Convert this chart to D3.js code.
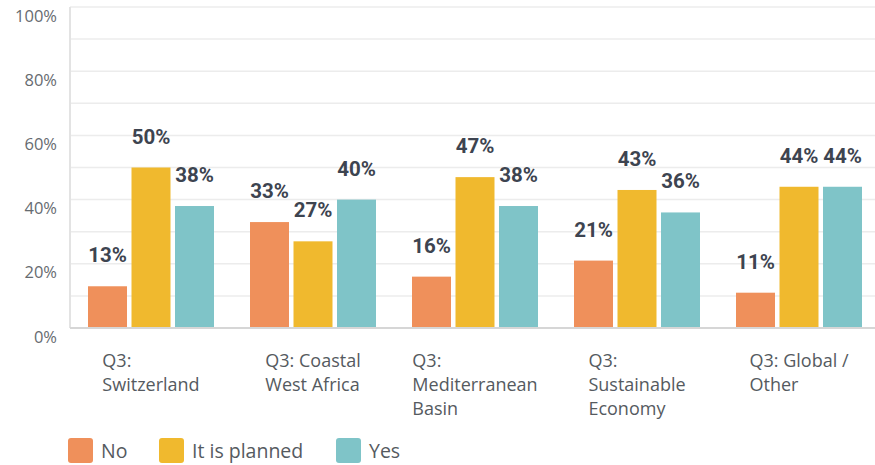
<!DOCTYPE html>
<html>
<head>
<meta charset="utf-8">
<script src="https://cdn.jsdelivr.net/npm/d3@7"></script>
<style>
  html, body { margin: 0; padding: 0; background: #fff; }
  svg { display: block; }
</style>
</head>
<body>
<svg id="chart" width="875" height="465"></svg>
<script>
// Survey question Q3 answers per region
const categories = [
  ["Q3:", "Switzerland"],
  ["Q3: Coastal", "West Africa"],
  ["Q3:", "Mediterranean", "Basin"],
  ["Q3:", "Sustainable", "Economy"],
  ["Q3: Global /", "Other"]
];
const seriesNames = ["No", "It is planned", "Yes"];
const noValues = [13, 33, 16, 21, 11];
const plannedValues = [50, 27, 47, 43, 44];
const yesValues = [38, 40, 38, 36, 44];
const yTicks = [0, 20, 40, 60, 80, 100];
const gridValues = [10, 20, 30, 40, 50, 60, 70, 80, 90, 100];
const colors = ["#EF905B", "#F0B92E", "#7FC4C8"];

const series = [noValues, plannedValues, yesValues];
const svg = d3.select("#chart");

const x0 = d3.scaleBand().domain(d3.range(categories.length)).range([70, 880]);
const barW = 39, barGap = 4.5;
const x1 = d3.scaleBand().domain(d3.range(seriesNames.length))
  .range([0, 3 * barW + 2 * barGap]).paddingInner(barGap / (barW + barGap)).paddingOuter(0);
const groupOffset = (x0.bandwidth() - (3 * barW + 2 * barGap)) / 2;
const y = d3.scaleLinear().domain([0, 100]).range([328, 7]);

// Horizontal gridlines
svg.append("g").selectAll("line").data(gridValues).join("line")
  .attr("x1", 70).attr("x2", 875)
  .attr("y1", d => y(d)).attr("y2", d => y(d))
  .attr("stroke", "#ececec").attr("stroke-width", 1.5);

// Left axis line
svg.append("line").attr("x1", 70).attr("x2", 70).attr("y1", y(100)).attr("y2", y(0))
  .attr("stroke", "#e3e3e3").attr("stroke-width", 2);

// Y tick labels (sitting just below their gridline)
svg.append("g").selectAll("text").data(yTicks).join("text")
  .attr("x", 57).attr("y", d => y(d) + 14.5)
  .attr("text-anchor", "end")
  .attr("font-family", "'Open Sans', 'Noto Sans', sans-serif")
  .attr("font-size", 16.5).attr("fill", "#666b70")
  .text(d => d + "%");

// Bars
const groups = svg.append("g").selectAll("g").data(categories).join("g")
  .attr("transform", (d, i) => `translate(${x0(i) + groupOffset},0)`);

groups.each(function(cat, i) {
  const g = d3.select(this);
  series.forEach((vals, s) => {
    g.append("rect")
      .attr("x", x1(s)).attr("width", x1.bandwidth())
      .attr("y", y(vals[i])).attr("height", y(0) - y(vals[i]))
      .attr("fill", colors[s]);
  });
  series.forEach((vals, s) => {
    g.append("text")
      .attr("x", x1(s) + x1.bandwidth() / 2)
      .attr("y", y(vals[i]) - 24)
      .attr("text-anchor", "middle")
      .attr("font-family", "Roboto, 'Noto Sans', sans-serif")
      .attr("font-weight", "bold")
      .attr("font-size", 20.5).attr("fill", "#3d4450")
      .text(vals[i] + "%");
  });
});

// Baseline
svg.append("line").attr("x1", 70).attr("x2", 875).attr("y1", y(0)).attr("y2", y(0))
  .attr("stroke", "#d6d6d6").attr("stroke-width", 2);

// Category labels: left-aligned lines, block centred on the band
svg.append("g").selectAll("g").data(categories).join("g").each(function(lines, i) {
  const g = d3.select(this);
  const t = g.append("text")
    .attr("font-family", "'Open Sans', 'Noto Sans', sans-serif")
    .attr("font-size", 18).attr("fill", "#555a60");
  lines.forEach((ln, k) => {
    t.append("tspan").attr("x", 0).attr("y", 367 + k * 24).text(ln);
  });
  let maxW = 0;
  t.selectAll("tspan").each(function() { maxW = Math.max(maxW, this.getComputedTextLength()); });
  const cx = x0(i) + x0.bandwidth() / 2;
  g.attr("transform", `translate(${cx - maxW / 2},0)`);
});

// Legend
const legendX = [68, 159, 336];
const legend = svg.append("g").selectAll("g").data(seriesNames).join("g")
  .attr("transform", (d, i) => `translate(${legendX[i]},438)`);
legend.append("rect").attr("width", 25).attr("height", 25).attr("rx", 3)
  .attr("fill", (d, i) => colors[i]);
legend.append("text").attr("x", 33).attr("y", 20)
  .attr("font-family", "'Open Sans', 'Noto Sans', sans-serif")
  .attr("font-size", 19.5).attr("fill", "#555a60")
  .text(d => d);
</script>
</body>
</html>
